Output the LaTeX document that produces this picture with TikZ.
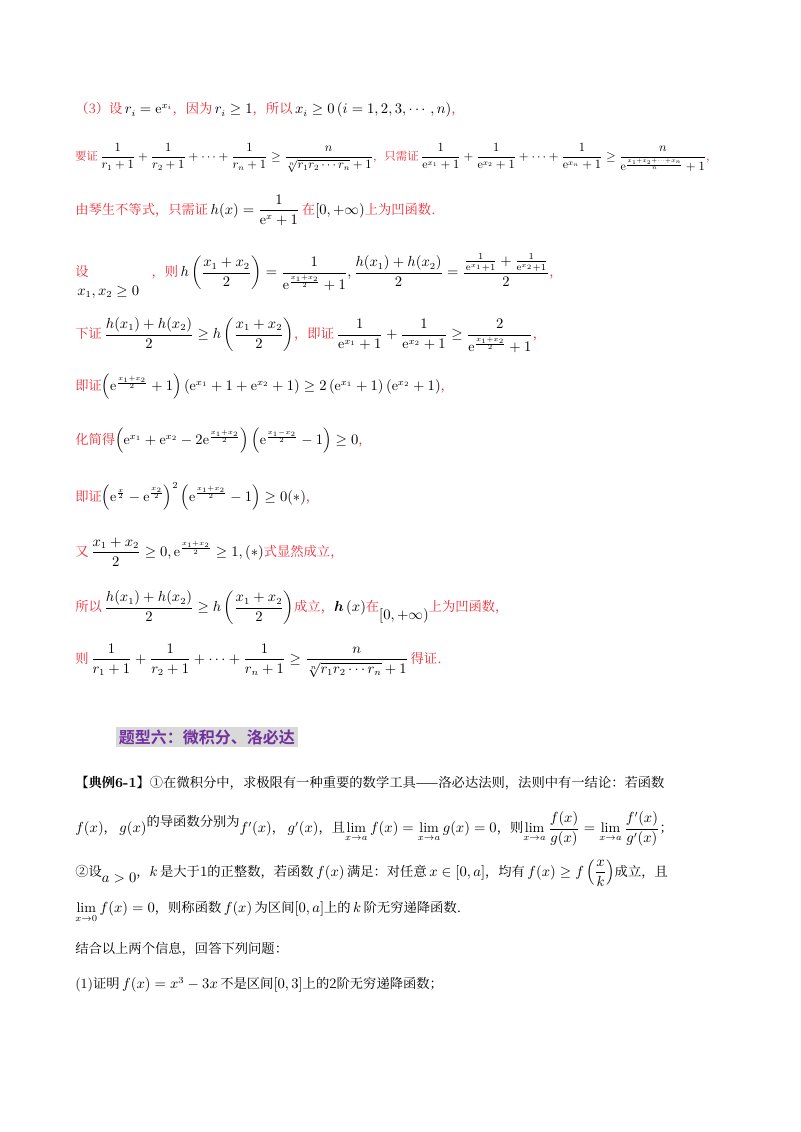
\documentclass[tikz,border=0pt]{standalone}
\usepackage{amsmath,amssymb}
\usepackage{fontspec}
\newfontfamily\cjk{Noto Serif CJK SC}[Scale=0.95]
\newfontfamily\cjkb{Noto Sans CJK SC}[BoldFont={Noto Sans CJK SC Bold}]
\definecolor{rd}{RGB}{240,40,50}
\definecolor{pu}{RGB}{112,48,160}
\definecolor{gb}{RGB}{217,217,217}
\newcommand{\R}[1]{{\color{rd}\cjk #1}}
\newcommand{\K}[1]{{\cjk #1}}
\begin{document}
\begin{tikzpicture}[x=0.75pt,y=-0.75pt,
 ln/.style={anchor=west,inner sep=0pt,font=\fontsize{10.5}{12}\selectfont}]
\useasboundingbox (0,0) rectangle (800,1132);
\node[ln] (l1) at (75,110) {\R{（3）设}$\,r_i=\mathrm{e}^{x_i}$\R{，因为}$\,r_i\ge1$\R{，所以}$\,x_i\ge0\left(i=1,2,3,\cdots,n\right)$\R{，}};
\node[ln,scale=0.86,transform shape] (l2) at (75,158) {\R{要证}$\,\dfrac{1}{r_1+1}+\dfrac{1}{r_2+1}+\cdots+\dfrac{1}{r_n+1}\ge\dfrac{n}{\sqrt[n]{r_1r_2\cdots r_n}+1}$\R{，只需证}$\,\dfrac{1}{\mathrm{e}^{x_1}+1}+\dfrac{1}{\mathrm{e}^{x_2}+1}+\cdots+\dfrac{1}{\mathrm{e}^{x_n}+1}\ge\dfrac{n}{\mathrm{e}^{\frac{x_1+x_2+\cdots+x_n}{n}}+1}$\R{，}};
\node[ln] (l3) at (75,210) {\R{由琴生不等式，只需证}$\,h(x)=\dfrac{1}{\mathrm{e}^{x}+1}\,$\R{在}$[0,+\infty)$\R{上为凹函数.}};
\node[ln] (l4) at (75,272) {\R{设}\hspace{4.5em}\R{，则}$\,h\left(\dfrac{x_1+x_2}{2}\right)=\dfrac{1}{\mathrm{e}^{\frac{x_1+x_2}{2}}+1},\dfrac{h(x_1)+h(x_2)}{2}=\dfrac{\frac{1}{\mathrm{e}^{x_1}+1}+\frac{1}{\mathrm{e}^{x_2}+1}}{2}$\R{，}};
\node[ln] (l4b) at (77,292) {$x_1,x_2\ge0$};
\node[ln] (l5) at (75,335) {\R{下证}$\,\dfrac{h(x_1)+h(x_2)}{2}\ge h\left(\dfrac{x_1+x_2}{2}\right)$\R{，即证}$\,\dfrac{1}{\mathrm{e}^{x_1}+1}+\dfrac{1}{\mathrm{e}^{x_2}+1}\ge\dfrac{2}{\mathrm{e}^{\frac{x_1+x_2}{2}}+1}$\R{，}};
\node[ln] (l6) at (75,387) {\R{即证}$\left(\mathrm{e}^{\frac{x_1+x_2}{2}}+1\right)\left(\mathrm{e}^{x_1}+1+\mathrm{e}^{x_2}+1\right)\ge2\left(\mathrm{e}^{x_1}+1\right)\left(\mathrm{e}^{x_2}+1\right)$\R{，}};
\node[ln] (l7) at (75,441) {\R{化简得}$\left(\mathrm{e}^{x_1}+\mathrm{e}^{x_2}-2\mathrm{e}^{\frac{x_1+x_2}{2}}\right)\left(\mathrm{e}^{\frac{x_1-x_2}{2}}-1\right)\ge0$\R{，}};
\node[ln] (l8) at (75,496) {\R{即证}$\left(\mathrm{e}^{\frac{x}{2}}-\mathrm{e}^{\frac{x_2}{2}}\right)^{2}\left(\mathrm{e}^{\frac{x_1+x_2}{2}}-1\right)\ge0(*)$\R{，}};
\node[ln] (l9) at (75,552) {\R{又}$\,\dfrac{x_1+x_2}{2}\ge0,\mathrm{e}^{\frac{x_1+x_2}{2}}\ge1,(*)$\R{式显然成立，}};
\node[ln] (l10) at (75,608) {\R{所以}$\,\dfrac{h(x_1)+h(x_2)}{2}\ge h\left(\dfrac{x_1+x_2}{2}\right)$\R{成立，}$\boldsymbol{h}\left(x\right)$\R{在}\raisebox{-1.2ex}{$[0,+\infty)$}\R{上为凹函数，}};
\node[ln] (l11) at (75,661) {\R{则}$\,\dfrac{1}{r_1+1}+\dfrac{1}{r_2+1}+\cdots+\dfrac{1}{r_n+1}\ge\dfrac{n}{\sqrt[n]{r_1r_2\cdots r_n}+1}\,$\R{得证.}};
\node[anchor=west,fill=gb,inner sep=2pt,text=pu,font=\cjkb\bfseries\fontsize{12}{14}\selectfont] (t) at (116,737) {题型六：微积分、洛必达};
\node[ln] (p1) at (75,783) {\textbf{\K{【典例}6-1\K{】}}\K{①在微积分中，求极限有一种重要的数学工具——洛必达法则，法则中有一结论：若函数}};
\node[ln] (p2) at (75,829) {$f(x)$\K{，}$\,g(x)$\raisebox{1ex}{\K{的导函数分别为}}$f'(x)$\K{，}$\,g'(x)$\K{，且}$\lim\limits_{x\to a}f(x)=\lim\limits_{x\to a}g(x)=0$\K{，则}$\lim\limits_{x\to a}\dfrac{f(x)}{g(x)}=\lim\limits_{x\to a}\dfrac{f'(x)}{g'(x)}$\K{；}};
\node[ln] (p3) at (75,873) {\K{②设}\raisebox{-1ex}{$a>0$}\K{，}$k\,$\K{是大于1的正整数，若函数}$\,f(x)\,$\K{满足：对任意}$\,x\in[0,a]$\K{，均有}$\,f(x)\ge f\left(\dfrac{x}{k}\right)$\K{成立，且}};
\node[ln] (p4) at (75,912) {$\lim\limits_{x\to0}f(x)=0$\K{，则称函数}$\,f(x)\,$\K{为区间}$[0,a]$\K{上的}$\,k\,$\K{阶无穷递降函数.}};
\node[ln] (p5) at (75,949) {\K{结合以上两个信息，回答下列问题：}};
\node[ln] (p6) at (75,985) {(1)\K{证明}$\,f(x)=x^3-3x\,$\K{不是区间}$[0,3]$\K{上的2阶无穷递降函数；}};
\end{tikzpicture}
\end{document}
